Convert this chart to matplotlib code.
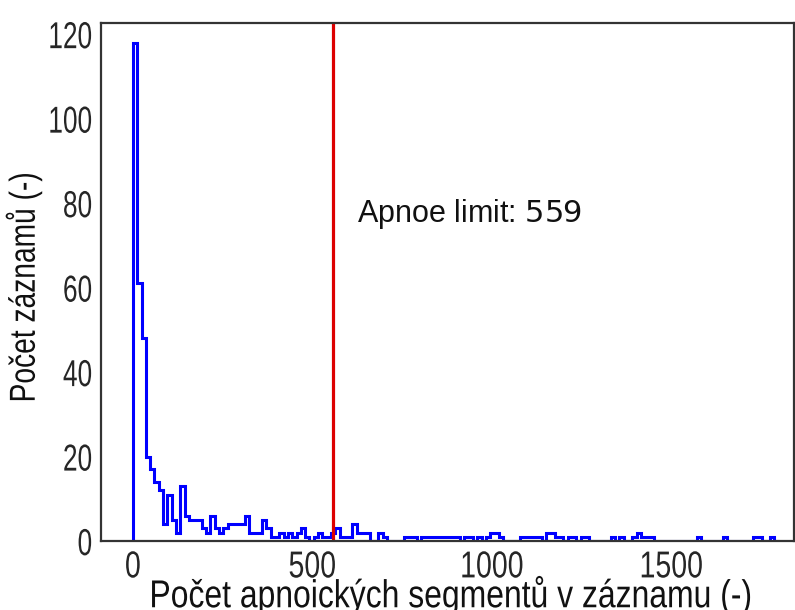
import numpy as np
import matplotlib
matplotlib.use("Agg")
import matplotlib.pyplot as plt
from matplotlib.patheffects import AbstractPathEffect
from matplotlib.transforms import Affine2D

# histogram of apnoic segments per record, 12-wide bins from 0 to 1800
bin_edges = np.arange(0, 1801, 12)
counts = [
    118, 61, 48, 20, 17, 14, 12, 4, 11, 5,
    2, 13, 6, 5, 5, 5, 3, 2, 6, 3,
    2, 3, 4, 4, 4, 4, 6, 2, 2, 2,
    5, 3, 1, 1, 2, 1, 2, 1, 2, 3,
    1, 0, 1, 2, 1, 1, 2, 3, 1, 1,
    1, 4, 2, 2, 2, 0, 0, 2, 1, 0,
    0, 0, 0, 1, 1, 1, 0, 1, 1, 1,
    1, 1, 1, 1, 1, 1, 0, 1, 1, 0,
    1, 0, 1, 2, 2, 1, 0, 0, 0, 0,
    1, 1, 1, 1, 1, 0, 2, 2, 1, 1,
    0, 1, 1, 0, 1, 1, 0, 0, 0, 0,
    0, 1, 0, 1, 0, 0, 1, 2, 1, 1,
    1, 0, 0, 0, 0, 0, 0, 0, 0, 0,
    0, 1, 0, 0, 0, 0, 0, 1, 0, 0,
    0, 0, 0, 0, 1, 1, 0, 0, 1, 0,
]
apnoe_limit = 559


class Condense(AbstractPathEffect):
    """Squeeze text glyphs along the writing direction (narrow font look)."""

    def __init__(self, factor=0.8, anchor='center', vertical=False):
        super().__init__()
        self.factor = factor
        self.anchor = anchor
        self.vertical = vertical

    def draw_path(self, renderer, gc, tpath, affine, rgbFace=None):
        ext = tpath.get_extents(affine)
        if self.vertical:
            c = (ext.y0 + ext.y1) / 2
            sq = Affine2D().translate(0, -c).scale(1, self.factor).translate(0, c)
        else:
            if self.anchor == 'right':
                c = ext.x1
            elif self.anchor == 'left':
                c = ext.x0
            else:
                c = (ext.x0 + ext.x1) / 2
            sq = Affine2D().translate(-c, 0).scale(self.factor, 1).translate(c, 0)
        renderer.draw_path(gc, tpath, affine + sq, rgbFace)


plt.rcParams['font.family'] = ['Liberation Sans', 'DejaVu Sans']

fig = plt.figure(figsize=(7.95, 6.10), dpi=100)
ax = fig.add_axes([0.127, 0.113, 0.872, 0.849])

ax.stairs(counts, bin_edges, baseline=0, color='blue', linewidth=2.2)
ax.axvline(apnoe_limit, color='#dd0000', linewidth=2.3)
ax.text(625, 77.5, 'Apnoe limit: $%d$' % apnoe_limit, fontsize=22,
        va='center', ha='left', color='#111111')

ax.set_xlim(-89, 1843)
ax.set_ylim(0, 122.6)
ax.set_xticks([0, 500, 1000, 1500])
ax.set_yticks([0, 20, 40, 60, 80, 100, 120])
ax.tick_params(length=0, labelsize=27, colors='#262626', pad=6)

for lab in ax.get_xticklabels():
    lab.set_path_effects([Condense(0.76, 'center')])
for lab in ax.get_yticklabels():
    lab.set_path_effects([Condense(0.7, 'right')])

for s in ax.spines.values():
    s.set_color('#333333')
    s.set_linewidth(1.6)

ax.set_xlabel('Počet apnoických segmentů v záznamu (-)', fontsize=28, color='#111111')
ax.xaxis.label.set_path_effects([Condense(0.82, 'center')])
ax.xaxis.set_label_coords(0.504, -0.066)

ax.set_ylabel('Počet záznamů (-)', fontsize=26, color='#111111')
ax.yaxis.label.set_path_effects([Condense(0.78, vertical=True)])
ax.yaxis.set_label_coords(-0.084, 0.49)

fig.savefig('out.png', dpi=100)
